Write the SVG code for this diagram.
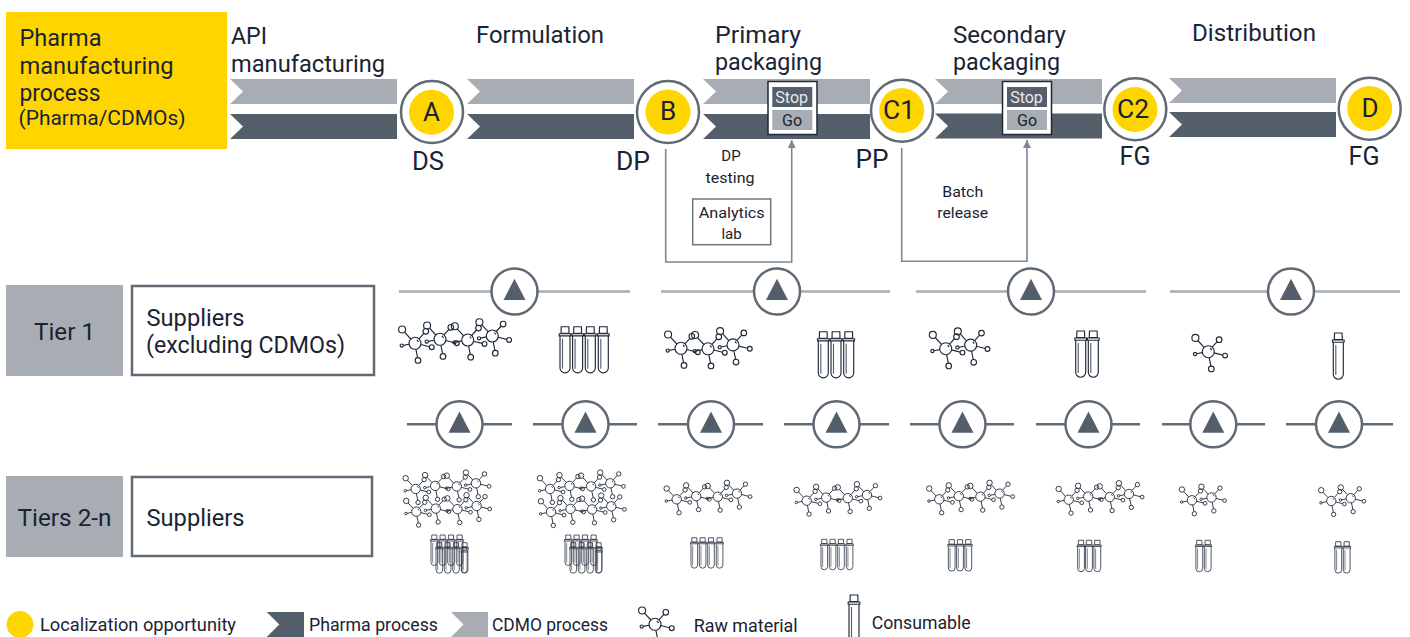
<svg xmlns="http://www.w3.org/2000/svg" width="1410" height="637" viewBox="0 0 1410 637">
<style>
text{font-family:Roboto,"Liberation Sans",sans-serif;fill:#1a2333}
.t23{font-size:23.5px}.t20{font-size:20px}.t15{font-size:15px}.t18{font-size:18px}.t16{font-size:16px}.t25{font-size:26px}
.m{text-anchor:middle}
.cdmo{fill:#a7adb3}.pharma{fill:#555f6b}
.ring{fill:#fff;stroke:#5f6a75;stroke-width:2.5}
.y{fill:#ffd500}
.conn{fill:none;stroke:#7c8894;stroke-width:1.6}
.gl{fill:#a7adb3}
.bx{fill:#fff;stroke:#5f6a75;stroke-width:2.5}
.l1{stroke:#a7adb3;stroke-width:2.5}
.l2{stroke:#5f6a75;stroke-width:2.5}
.tri{fill:#555f6b}
.ic{fill:none;stroke:#1f2937;stroke-width:1.15}
</style>
<defs>
<marker id="ah" markerWidth="9" markerHeight="9" refX="8" refY="4" orient="auto" markerUnits="userSpaceOnUse"><path d="M0,0L8,4L0,8Z" fill="#7c8894"/></marker>
<g id="unit" class="ic">
<circle r="6"/><circle cx="-12.9" cy="-13.8" r="3.5"/><circle cx="10.8" cy="-12" r="2.8"/><circle cx="16.8" cy="3.9" r="2.4"/><circle cx="3" cy="17.2" r="2.8"/><circle cx="-13.3" cy="2.3" r="1.6"/>
<path d="M-4.2,-4.3L-10.5,-11.2M3.9,-4.5L8.9,-10M5.8,1.2L14.5,3.4M.9,6L2.6,14.4M-6,.9L-11.7,2.1M2,-3.5L3.5,-1.5"/>
</g>
<g id="c2"><use href="#unit"/><use href="#unit" x="25" y="-3.6"/></g>
<g id="c3"><use href="#unit"/><use href="#unit" x="27" y=".5"/><use href="#unit" x="52" y="-3.4"/></g>
<g id="c4"><use href="#unit"/><use href="#unit" x="25" y="-4"/><use href="#unit" x="52.7" y="-3.3"/><use href="#unit" x="77.3" y="-7.3"/></g>
<g id="vial" class="ic">
<path d="M-3.8,0H3.8L4,6.5H-4Z"/><path d="M-5.8,7H5.8V9.2H-5.8Z"/><path d="M-5,9.2V41.2A5,5 0 0 0 5,41.2V9.2"/><path d="M-2.5,12V42" stroke="#56606c"/>
</g>
<g id="v4"><use href="#vial"/><use href="#vial" x="12.6"/><use href="#vial" x="25.3"/><use href="#vial" x="38.3"/></g>
<g id="pump"><circle class="ring" r="23"/><path class="tri" d="M0,-12.7L11,8.4H-11Z"/></g>
<path id="chev" d="M0,0H167V25H0L13,12.5Z"/>
</defs>

<g id="header">
<rect x="6" y="12" width="221" height="137" fill="#ffd500"/>
<text class="t23" x="19.5" y="46" textLength="82" lengthAdjust="spacingAndGlyphs">Pharma</text>
<text class="t23" x="19.5" y="73.5" textLength="154" lengthAdjust="spacingAndGlyphs">manufacturing</text>
<text class="t23" x="19.5" y="101" textLength="81" lengthAdjust="spacingAndGlyphs">process</text>
<text class="t20" x="18.5" y="125" textLength="167" lengthAdjust="spacingAndGlyphs">(Pharma/CDMOs)</text>
</g>

<g id="stage-labels">
<text class="t23" x="231" y="44" textLength="36" lengthAdjust="spacingAndGlyphs">API</text>
<text class="t23" x="231" y="72" textLength="154" lengthAdjust="spacingAndGlyphs">manufacturing</text>
<text class="t23" x="476" y="42.7" textLength="128" lengthAdjust="spacingAndGlyphs">Formulation</text>
<text class="t23" x="715" y="42.5" textLength="86" lengthAdjust="spacingAndGlyphs">Primary</text>
<text class="t23" x="715" y="70" textLength="107" lengthAdjust="spacingAndGlyphs">packaging</text>
<text class="t23" x="953" y="42.5" textLength="113" lengthAdjust="spacingAndGlyphs">Secondary</text>
<text class="t23" x="953" y="70" textLength="107" lengthAdjust="spacingAndGlyphs">packaging</text>
<text class="t23" x="1192" y="41" textLength="124" lengthAdjust="spacingAndGlyphs">Distribution</text>
</g>

<g id="process-bars">
<use href="#chev" class="cdmo" x="230" y="79"/><use href="#chev" class="pharma" x="230" y="114"/>
<use href="#chev" class="cdmo" x="467" y="79"/><use href="#chev" class="pharma" x="467" y="114"/>
<use href="#chev" class="cdmo" x="703" y="79"/><use href="#chev" class="pharma" x="703" y="114"/>
<use href="#chev" class="cdmo" x="935" y="79"/><use href="#chev" class="pharma" x="935" y="113.5"/>
<use href="#chev" class="cdmo" x="1169" y="78"/><use href="#chev" class="pharma" x="1169" y="112"/>
</g>

<g id="connectors">
<path class="conn" marker-end="url(#ah)" d="M665.7,149V262H791.7V140"/>
<path class="conn" marker-end="url(#ah)" d="M901.7,148V261.3H1027V140"/>
</g>

<g id="node-A"><circle class="ring" cx="432" cy="112" r="31"/><circle class="y" cx="431.5" cy="112.3" r="22.5"/><text class="t25 m" x="431.5" y="120.7">A</text></g>
<g id="node-B"><circle class="ring" cx="668" cy="112" r="31"/><circle class="y" cx="668" cy="112" r="22.5"/><text class="t25 m" x="668" y="120">B</text></g>
<g id="node-C1"><circle class="ring" cx="902" cy="110.7" r="31"/><circle class="y" cx="901.7" cy="110.5" r="22.5"/><text class="t25 m" x="899" y="118.7" textLength="32" lengthAdjust="spacingAndGlyphs">C1</text></g>
<g id="node-C2"><circle class="ring" cx="1135.3" cy="109.3" r="31"/><circle class="y" cx="1135" cy="109.5" r="22.5"/><text class="t25 m" x="1133" y="117.5" textLength="32" lengthAdjust="spacingAndGlyphs">C2</text></g>
<g id="node-D"><circle class="ring" cx="1369.7" cy="108.7" r="31"/><circle class="y" cx="1369.7" cy="108.5" r="22.5"/><text class="t25 m" x="1370" y="117">D</text></g>

<g id="stage-codes">
<text class="t25 m" x="428" y="170" textLength="32" lengthAdjust="spacingAndGlyphs">DS</text>
<text class="t25 m" x="633" y="170" textLength="34" lengthAdjust="spacingAndGlyphs">DP</text>
<text class="t25 m" x="872" y="168.3" textLength="33" lengthAdjust="spacingAndGlyphs">PP</text>
<text class="t25 m" x="1135" y="165" textLength="31" lengthAdjust="spacingAndGlyphs">FG</text>
<text class="t25 m" x="1364" y="165" textLength="31" lengthAdjust="spacingAndGlyphs">FG</text>
</g>

<g id="stop-go-1">
<rect x="768" y="81.5" width="49" height="53" fill="#fff" stroke="#1f2937" stroke-width="1.5"/>
<rect x="772.3" y="87" width="40" height="20" fill="#555f6b"/><rect x="772.3" y="110" width="40" height="20" fill="#a7adb3"/>
<text class="t16 m" x="791.7" y="103.3" style="fill:#e8eaec">Stop</text><text class="t16 m" x="792" y="125.7">Go</text>
</g>
<g id="stop-go-2">
<rect x="1002.5" y="81.5" width="49" height="53" fill="#fff" stroke="#1f2937" stroke-width="1.5"/>
<rect x="1007" y="87" width="40" height="20" fill="#555f6b"/><rect x="1007" y="110" width="40" height="20" fill="#a7adb3"/>
<text class="t16 m" x="1026.5" y="103.3" style="fill:#e8eaec">Stop</text><text class="t16 m" x="1027" y="125.7">Go</text>
</g>

<g id="dp-testing">
<text class="t15 m" x="731" y="161">DP</text><text class="t15 m" x="730" y="182.7" textLength="49" lengthAdjust="spacingAndGlyphs">testing</text>
</g>
<g id="analytics-lab">
<rect x="692.7" y="199" width="78" height="45.7" fill="#fff" stroke="#6b7580" stroke-width="1.5"/>
<text class="t15 m" x="731.7" y="217.7" textLength="66" lengthAdjust="spacingAndGlyphs">Analytics</text><text class="t15 m" x="731.5" y="238.5">lab</text>
</g>
<g id="batch-release">
<text class="t15 m" x="962.7" y="197.3" textLength="41" lengthAdjust="spacingAndGlyphs">Batch</text><text class="t15 m" x="962.7" y="217.7" textLength="51" lengthAdjust="spacingAndGlyphs">release</text>
</g>

<g id="tier-1"><rect class="gl" x="6" y="285" width="117" height="91"/><text class="t23 m" x="64.5" y="339.5" textLength="61" lengthAdjust="spacingAndGlyphs">Tier 1</text></g>
<g id="tier-1-suppliers"><rect class="bx" x="132" y="286" width="242" height="89"/><text class="t23" x="146.5" y="325.7" textLength="98" lengthAdjust="spacingAndGlyphs">Suppliers</text><text class="t23" x="146" y="353.3" textLength="199" lengthAdjust="spacingAndGlyphs">(excluding CDMOs)</text></g>
<g id="tier-2"><rect class="gl" x="6" y="476" width="117" height="81"/><text class="t23 m" x="64.5" y="526" textLength="94" lengthAdjust="spacingAndGlyphs">Tiers 2-n</text></g>
<g id="tier-2-suppliers"><rect class="bx" x="132" y="477" width="240" height="79"/><text class="t23" x="146.5" y="526" textLength="98" lengthAdjust="spacingAndGlyphs">Suppliers</text></g>

<g id="flow-tier-1">
<path class="l1" d="M399,291.5H630M661,291.5H890M916,291.5H1146M1170,291.5H1400"/>
<use href="#pump" x="514.5" y="291.5"/><use href="#pump" x="777" y="291.5"/><use href="#pump" x="1031" y="291.5"/><use href="#pump" x="1291" y="291.5"/>
</g>
<g id="flow-tier-2">
<path class="l2" d="M407,424.3H512M533,424.3H637M658,424.3H763M784,424.3H889M910,424.3H1014M1036,424.3H1140M1162,424.3H1265M1286,424.3H1393"/>
<use href="#pump" x="459.5" y="424.3"/><use href="#pump" x="585.5" y="424.3"/><use href="#pump" x="711" y="424.3"/><use href="#pump" x="836.5" y="424.3"/><use href="#pump" x="962.5" y="424.3"/><use href="#pump" x="1088.5" y="424.3"/><use href="#pump" x="1213.3" y="424.3"/><use href="#pump" x="1339" y="424.3"/>
</g>

<g id="tier-1-items">
<use href="#c4" transform="translate(415,343.3)"/>
<use href="#v4" transform="translate(565,326.7)"/>
<use href="#c3" transform="translate(681,348.3)"/>
<use href="#vial" transform="translate(823.3,331.7)"/><use href="#vial" transform="translate(836,331.7)"/><use href="#vial" transform="translate(848.7,331.7)"/>
<use href="#c2" transform="translate(945.7,348.7)"/>
<use href="#vial" transform="translate(1080.7,331)"/><use href="#vial" transform="translate(1093.3,331)"/>
<use href="#unit" transform="translate(1208.3,351.7)"/>
<use href="#vial" transform="translate(1338.3,333)"/>
</g>

<g id="tier-2-items">
<use href="#c4" transform="translate(415.7,489) scale(.78)"/>
<use href="#c4" transform="translate(416.3,511.7) scale(.78)"/>
<use href="#c4" transform="translate(550,489) scale(.78)"/>
<use href="#c4" transform="translate(551,512) scale(.78)"/>
<use href="#v4" transform="translate(434.3,535) scale(.66)"/>
<use href="#v4" transform="translate(439.3,542.7) scale(.66)"/>
<use href="#vial" transform="translate(464.3,547) scale(.56)"/>
<use href="#v4" transform="translate(568.3,535) scale(.66)"/>
<use href="#v4" transform="translate(573.3,542.7) scale(.66)"/>
<use href="#vial" transform="translate(599,547) scale(.56)"/>
<use href="#c4" transform="translate(676.7,499.3) scale(.78)"/>
<use href="#c4" transform="translate(806.7,500.7) scale(.78)"/>
<use href="#c4" transform="translate(939.3,499.3) scale(.78)"/>
<use href="#c4" transform="translate(1068.7,499.7) scale(.78)"/>
<use href="#c2" transform="translate(1192,500.3) scale(.78)"/>
<use href="#c2" transform="translate(1331.3,501) scale(.78)"/>
<use href="#v4" transform="translate(694.3,537.7) scale(.66)"/>
<use href="#v4" transform="translate(824.3,539.3) scale(.66)"/>
<use href="#vial" transform="translate(951.7,539.7) scale(.68)"/><use href="#vial" transform="translate(960,539.7) scale(.68)"/><use href="#vial" transform="translate(968.3,539.7) scale(.68)"/>
<use href="#vial" transform="translate(1081,540.3) scale(.68)"/><use href="#vial" transform="translate(1089,540.3) scale(.68)"/><use href="#vial" transform="translate(1097.3,540.3) scale(.68)"/>
<use href="#vial" transform="translate(1199.3,540.3) scale(.68)"/><use href="#vial" transform="translate(1207.7,540.3) scale(.68)"/>
<use href="#vial" transform="translate(1338.3,541.7) scale(.68)"/><use href="#vial" transform="translate(1346.7,541.7) scale(.68)"/>
</g>

<g id="legend">
<circle class="y" cx="20" cy="624.5" r="13.4"/>
<text class="t18" x="40" y="630.7" textLength="196" lengthAdjust="spacingAndGlyphs">Localization opportunity</text>
<path class="pharma" d="M266.7,612H304V637H266.7L279.3,624.5Z"/>
<text class="t18" x="309" y="631" textLength="129" lengthAdjust="spacingAndGlyphs">Pharma process</text>
<path class="cdmo" d="M451,612H488V637H451L463.5,624.5Z"/>
<text class="t18" x="492" y="631" textLength="116" lengthAdjust="spacingAndGlyphs">CDMO process</text>
<use href="#unit" transform="translate(655,624.3)"/>
<text class="t18" x="693.7" y="631.5" textLength="104" lengthAdjust="spacingAndGlyphs">Raw material</text>
<use href="#vial" transform="translate(854,595)"/>
<text class="t18" x="871.7" y="628.5" textLength="99" lengthAdjust="spacingAndGlyphs">Consumable</text>
</g>
</svg>
